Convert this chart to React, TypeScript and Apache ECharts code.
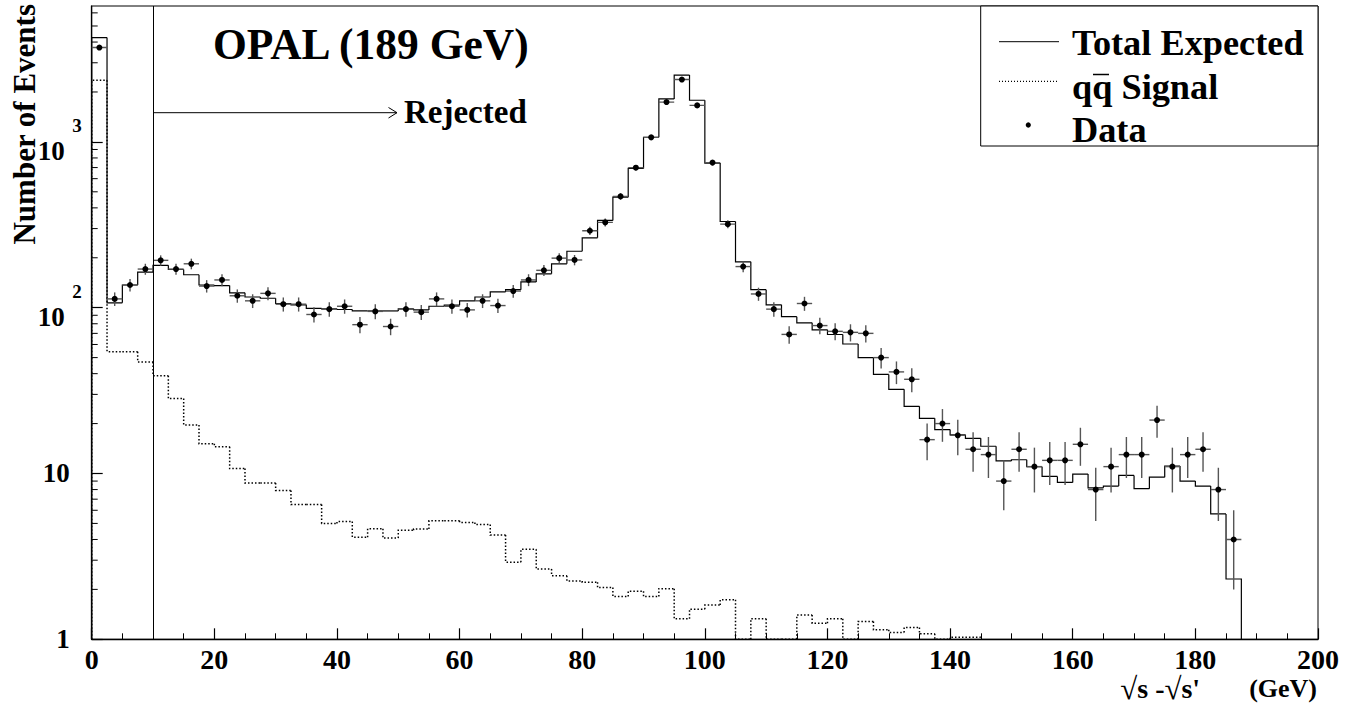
import React, { useEffect, useRef } from "react";
import * as echarts from "echarts";

// ---------- data ----------
const BIN_WIDTH = 2.5; // GeV per bin, bins start at 0

// Total expected (solid histogram), bins 0..74 (bins 75+ empty)
const totalExpected = [
  4256, 107, 137, 164, 180, 170, 158, 137, 136, 123,
  116, 114, 106, 104, 99, 98.5, 97.5, 95.6, 95.6, 95.6,
  98.5, 97, 102, 103.5, 110, 116, 124.5, 128.5, 143, 160,
  184, 219, 264, 336, 464, 692, 1065, 1815, 2528, 1783,
  745, 331, 189, 128.5, 104, 88.3, 81, 73.5, 68.9, 60.4,
  50, 39.6, 32.2, 25.4, 21.5, 18.4, 17.1, 16.3, 14.6, 11.9,
  12.1, 11.0, 9.6, 8.83, 9.92, 8.2, 8.4, 9.73, 8.1, 9.5,
  11.1, 9.0, 8.4, 5.7, 2.31,
];

// qq-bar signal (dotted histogram), bins 0..57 (0 = empty bin)
const qqSignal = [
  2350, 54.3, 54.3, 47.1, 38.9, 28.3, 19.6, 15.1, 14.5, 10.7,
  8.75, 8.75, 7.9, 6.5, 6.5, 5.0, 5.13, 4.13, 4.65, 4.08,
  4.55, 4.63, 5.18, 5.18, 5.06, 4.92, 4.25, 2.92, 3.49, 2.65,
  2.42, 2.25, 2.21, 2.05, 1.81, 1.95, 1.81, 2.02, 1.33, 1.52,
  1.61, 1.73, 0, 1.33, 0, 0, 1.4, 1.25, 1.33, 0,
  1.28, 1.14, 1.1, 1.18, 1.08, 0, 1.03, 1.03,
];

// Data counts per bin, bins 0..74
const dataCounts = [
  3707, 113, 137, 171, 193, 171, 184, 135, 147, 118,
  110, 122, 105, 105, 91, 98, 102, 79, 95, 77,
  98, 94, 113, 102, 97, 110, 103, 126, 147, 168,
  199, 194, 291, 327, 469, 699, 1065, 1738, 2376, 1660,
  750, 319, 177, 121, 98, 69, 106, 78, 72, 71,
  70, 50, 41, 37, 16, 20, 17, 14, 13, 9,
  14, 11, 12, 12, 15, 8, 11, 13, 13, 21,
  11, 13, 14, 8, 4,
];

const CUT_VALUE = 10; // GeV, "Rejected" line
const Y_MIN = 1;
const Y_MAX = 6600;
const X_MIN = 0;
const X_MAX = 200;
const yTickValues = [1, 10, 100, 1000];
const yTickMantissa = ["1", "10", "10", "10"];
const yTickExponent = ["", "", "2", "3"];
const yMinorMultipliers = [2, 3, 4, 5, 6, 7, 8, 9];
const yDecades = [1, 10, 100, 1000];

const FONT = '"Liberation Serif", "Times New Roman", Times, serif';

function tickIndex(val: number) {
  return yTickValues.findIndex((t) => Math.abs(t - val) < 1e-6 * t);
}

function histItems(values: number[]) {
  return values.map((v, i) => [
    i * BIN_WIDTH,
    (i + 1) * BIN_WIDTH,
    v,
    i === 0 ? 0 : values[i - 1],
    i === values.length - 1 ? 1 : 0,
  ]);
}

function makeHistRender(style: any) {
  return (_params: any, api: any) => {
    const lo = api.value(0);
    const hi = api.value(1);
    const v = api.value(2);
    const prev = api.value(3);
    const last = api.value(4);
    const c = (x: number, y: number) => api.coord([x, Math.max(y, Y_MIN)]);
    const pts = [c(lo, prev), c(lo, v), c(hi, v)];
    if (last) pts.push(c(hi, Y_MIN));
    return {
      type: "polyline",
      shape: { points: pts },
      style: { ...style, fill: "none" },
    };
  };
}

const labelFont = { fontFamily: FONT, fontWeight: "bold", color: "#000" };

export default function App() {
  const ref = useRef<HTMLDivElement>(null);

  useEffect(() => {
    if (!ref.current) return;
    const chart = echarts.init(ref.current, undefined, { renderer: "svg" });

    const minorTicks: number[][] = [];
    yDecades.forEach((d) =>
      yMinorMultipliers.forEach((m) => {
        if (m * d < Y_MAX) minorTicks.push([X_MIN, m * d]);
      })
    );

    const powTicks = yTickValues
      .map((v, i) => ({ v, m: yTickMantissa[i], e: yTickExponent[i] }))
      .filter((t) => t.e);

    const dataItems = dataCounts.map((v, i) => [i * BIN_WIDTH, (i + 1) * BIN_WIDTH, v]);

    const option: any = {
      animation: false,
      backgroundColor: "#fff",
      grid: {
        left: 91.7,
        right: 34,
        top: 6,
        bottom: 73.7,
        show: true,
        borderColor: "#000",
        borderWidth: 1,
        backgroundColor: "transparent",
      },
      xAxis: {
        type: "value",
        min: X_MIN,
        max: X_MAX,
        interval: 20,
        axisLine: { show: true, lineStyle: { color: "#000", width: 1.3 } },
        axisTick: { show: true, inside: true, length: 11, lineStyle: { color: "#000", width: 1.2 } },
        minorTick: { show: true, splitNumber: 4, length: 6, lineStyle: { color: "#000", width: 1 } },
        splitLine: { show: false },
        minorSplitLine: { show: false },
        axisLabel: {
          margin: 10,
          lineHeight: 20,
          ...labelFont,
          fontSize: 28,
        },
      },
      yAxis: {
        type: "log",
        logBase: 10,
        min: Y_MIN,
        max: Y_MAX,
        position: "left",
        axisLine: { show: true, lineStyle: { color: "#000", width: 1.3 } },
        axisTick: { show: true, inside: true, length: 11, lineStyle: { color: "#000", width: 1.2 } },
        splitLine: { show: false },
        axisLabel: {
          margin: 22,
          showMaxLabel: false,
          ...labelFont,
          fontSize: 27,
          formatter: (val: number) => {
            const i = tickIndex(val);
            return i >= 0 && !yTickExponent[i] ? yTickMantissa[i] : "";
          },
        },
      },
      series: [
        {
          name: "qq Signal",
          type: "custom",
          clip: true,
          renderItem: makeHistRender({ stroke: "#000", lineWidth: 1.5, lineDash: [1.5, 2] }),
          encode: { x: [0, 1], y: [2] },
          data: histItems(qqSignal),
          z: 2,
        },
        {
          name: "Total Expected",
          type: "custom",
          clip: true,
          renderItem: makeHistRender({ stroke: "#000", lineWidth: 1.2 }),
          encode: { x: [0, 1], y: [2] },
          data: histItems(totalExpected),
          z: 3,
          markLine: {
            silent: true,
            symbol: "none",
            label: { show: false },
            lineStyle: { color: "#000", type: "solid", width: 1 },
            data: [{ xAxis: CUT_VALUE }],
          },
        },
        {
          name: "Data",
          type: "custom",
          clip: true,
          encode: { x: [0, 1], y: [2] },
          data: dataItems,
          z: 4,
          renderItem: (_params: any, api: any) => {
            const lo = api.value(0);
            const hi = api.value(1);
            const v = api.value(2);
            const xc = (lo + hi) / 2;
            const err = Math.sqrt(v);
            const top = api.coord([xc, v + err]);
            const bot = api.coord([xc, Math.max(v - err, Y_MIN)]);
            const l = api.coord([lo, v]);
            const r = api.coord([hi, v]);
            const c = api.coord([xc, v]);
            return {
              type: "group",
              children: [
                { type: "line", shape: { x1: top[0], y1: top[1], x2: bot[0], y2: bot[1] }, style: { stroke: "#555", lineWidth: 1.4 } },
                { type: "line", shape: { x1: l[0], y1: l[1], x2: r[0], y2: r[1] }, style: { stroke: "#555", lineWidth: 1.4 } },
                { type: "circle", shape: { cx: c[0], cy: c[1], r: 3 }, style: { fill: "#000" } },
              ],
            };
          },
        },
        {
          name: "minor y ticks",
          type: "custom",
          silent: true,
          encode: { x: 0, y: 1 },
          data: minorTicks,
          z: 5,
          renderItem: (_params: any, api: any) => {
            const p = api.coord([api.value(0), api.value(1)]);
            return {
              type: "line",
              shape: { x1: p[0], y1: p[1], x2: p[0] + 6, y2: p[1] },
              style: { stroke: "#000", lineWidth: 1 },
            };
          },
        },
        {
          // power-of-ten tick labels: mantissa "10" a little below the tick, exponent raised
          name: "y power labels",
          type: "custom",
          silent: true,
          clip: false,
          encode: { x: 0, y: 1 },
          data: powTicks.map((t) => [X_MIN, t.v]),
          z: 5,
          renderItem: (params: any, api: any) => {
            const p = api.coord([api.value(0), api.value(1)]);
            const t = powTicks[params.dataIndex];
            return {
              type: "group",
              children: [
                {
                  type: "text",
                  x: p[0] - 27,
                  y: p[1] + 9,
                  style: {
                    text: t.m,
                    fontFamily: FONT,
                    fontWeight: "bold",
                    fontSize: 27,
                    fill: "#000",
                    align: "right",
                    verticalAlign: "middle",
                  },
                },
                {
                  type: "text",
                  x: p[0] - 10,
                  y: p[1] - 16,
                  style: {
                    text: t.e,
                    fontFamily: FONT,
                    fontWeight: "bold",
                    fontSize: 19,
                    fill: "#000",
                    align: "right",
                    verticalAlign: "middle",
                  },
                },
              ],
            };
          },
        },
      ],
      graphic: [
        {
          type: "text",
          x: 213,
          y: 43.5,
          style: { text: "OPAL (189 GeV)", fontFamily: FONT, fontWeight: "bold", fontSize: 43.5, fill: "#000", align: "left", verticalAlign: "middle" },
        },
        {
          type: "line",
          shape: { x1: 153, y1: 112.7, x2: 397, y2: 112.7 },
          style: { stroke: "#000", lineWidth: 1 },
        },
        {
          type: "polyline",
          shape: { points: [[388.5, 107.5], [397, 112.7], [388.5, 118]] },
          style: { stroke: "#000", lineWidth: 1, fill: "none" },
        },
        {
          type: "text",
          x: 404,
          y: 112,
          style: { text: "Rejected", fontFamily: FONT, fontWeight: "bold", fontSize: 33, fill: "#000", align: "left", verticalAlign: "middle" },
        },
        // legend
        {
          type: "rect",
          shape: { x: 980.7, y: 6, width: 337.3, height: 140 },
          style: { fill: "#fff", stroke: "#000", lineWidth: 1 },
          z: 10,
        },
        { type: "line", shape: { x1: 999, y1: 41.7, x2: 1059, y2: 41.7 }, style: { stroke: "#000", lineWidth: 1 }, z: 11 },
        { type: "line", shape: { x1: 999, y1: 81.3, x2: 1059, y2: 81.3 }, style: { stroke: "#000", lineWidth: 1.2, lineDash: [1, 2] }, z: 11 },
        { type: "circle", shape: { cx: 1028.3, cy: 125, r: 2.6 }, style: { fill: "#000" }, z: 11 },
        {
          type: "text",
          x: 1072,
          y: 42.5,
          z: 11,
          style: { text: "Total Expected", fontFamily: FONT, fontWeight: "bold", fontSize: 36.3, fill: "#000", align: "left", verticalAlign: "middle" },
        },
        {
          type: "text",
          x: 1072,
          y: 86.5,
          z: 11,
          style: { text: "qq Signal", fontFamily: FONT, fontWeight: "bold", fontSize: 36.3, fill: "#000", align: "left", verticalAlign: "middle" },
        },
        { type: "line", shape: { x1: 1093, y1: 74.5, x2: 1109, y2: 74.5 }, style: { stroke: "#000", lineWidth: 1.5 }, z: 11 },
        {
          type: "text",
          x: 1072,
          y: 130,
          z: 11,
          style: { text: "Data", fontFamily: FONT, fontWeight: "bold", fontSize: 36.3, fill: "#000", align: "left", verticalAlign: "middle" },
        },
        // axis titles
        {
          type: "text",
          x: 24,
          y: 4,
          rotation: Math.PI / 2,
          style: { text: "Number of Events", fontFamily: FONT, fontWeight: "bold", fontSize: 31, fill: "#000", align: "right", verticalAlign: "middle" },
        },
        {
          type: "text",
          x: 1317,
          y: 688,
          style: {
            text: "{r|\u221A}{t|s -}{r|\u221A}{t|s'}{t|       }{g|(GeV)}",
            align: "right",
            verticalAlign: "middle",
            fill: "#000",
            rich: {
              r: { fontFamily: FONT, fontWeight: "bold", fontSize: 31, lineHeight: 22, fill: "#000" },
              t: { fontFamily: FONT, fontWeight: "bold", fontSize: 28, lineHeight: 22, fill: "#000" },
              g: { fontFamily: FONT, fontWeight: "bold", fontSize: 26, lineHeight: 22, fill: "#000" },
            },
          },
        },
      ],
    };

    chart.setOption(option);
    return () => chart.dispose();
  }, []);

  return (
    <div
      ref={ref}
      style={{ position: "absolute", left: 0, top: 0, width: 1352, height: 713, background: "#fff" }}
    />
  );
}
